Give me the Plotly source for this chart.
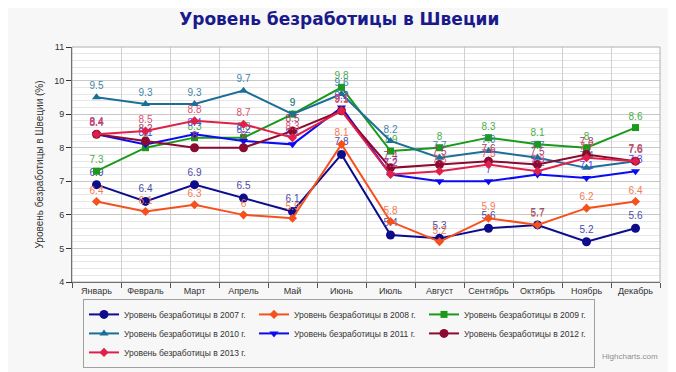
import plotly.graph_objects as go

months = ["Январь", "Февраль", "Март", "Апрель", "Май", "Июнь",
          "Июль", "Август", "Сентябрь", "Октябрь", "Ноябрь", "Декабрь"]

y2007 = [6.9, 6.4, 6.9, 6.5, 6.1, 7.8, 5.4, 5.3, 5.6, 5.7, 5.2, 5.6]
y2008 = [6.4, 6.1, 6.3, 6.0, 5.9, 8.1, 5.8, 5.2, 5.9, 5.7, 6.2, 6.4]
y2009 = [7.3, 8.0, 8.3, 8.3, 9.0, 9.8, 7.9, 8.0, 8.3, 8.1, 8.0, 8.6]
y2010 = [9.5, 9.3, 9.3, 9.7, 9.0, 9.6, 8.2, 7.7, 7.9, 7.7, 7.4, 7.6]
y2011 = [8.4, 8.1, 8.4, 8.2, 8.1, 9.2, 7.2, 7.0, 7.0, 7.2, 7.1, 7.3]
y2012 = [8.4, 8.2, 8.0, 8.0, 8.5, 9.1, 7.4, 7.5, 7.6, 7.5, 7.8, 7.6]
y2013 = [8.4, 8.5, 8.8, 8.7, 8.3, 9.1, 7.2, 7.3, 7.5, 7.3, 7.7, 7.6]

series_names = ["Уровень безработицы в 2007 г.", "Уровень безработицы в 2008 г.",
                "Уровень безработицы в 2009 г.", "Уровень безработицы в 2010 г.",
                "Уровень безработицы в 2011 г.", "Уровень безработицы в 2012 г.",
                "Уровень безработицы в 2013 г."]
series_values = [y2007, y2008, y2009, y2010, y2011, y2012, y2013]
colors = ["#0c0c8c", "#f4511e", "#1a9a1a", "#1b6f96", "#0b0bf0", "#8b0a32", "#e0204a"]
label_colors = ["#4a4aa8", "#f47a50", "#4aae4a", "#3f86a8", "#4848f0", "#a04060", "#e05070"]
symbols = ["circle", "diamond", "square", "triangle-up", "triangle-down", "circle", "diamond"]
sizes = [9, 7, 7, 8, 8, 9, 7]

title_text = "Уровень безработицы в Швеции"
yaxis_title = "Уровень безработицы в Швеции (%)"
credit_text = "Highcharts.com"

fig = go.Figure()
for name, vals, c, lc, sym, sz in zip(series_names, series_values, colors, label_colors, symbols, sizes):
    fig.add_trace(go.Scatter(
        x=months, y=vals, name=name,
        mode="lines+markers+text",
        line=dict(color=c, width=2),
        marker=dict(color=c, symbol=sym, size=sz),
        text=[f"{v:g}" for v in vals],
        textposition="top center",
        textfont=dict(family="Liberation Sans", size=10, color=lc),
        cliponaxis=False,
    ))

fig.update_layout(
    width=676, height=372,
    margin=dict(l=64, r=24, t=39, b=88),
    paper_bgcolor="#f7f7f7",
    plot_bgcolor="#ffffff",
    font=dict(family="Liberation Sans", size=9, color="#333333"),
    title=dict(text=f"<b>{title_text}</b>", x=0.49, xanchor="center", y=0.985, yanchor="top",
               font=dict(family="DejaVu Sans", size=17, color="#1a1a8c")),
    xaxis=dict(
        type="category", range=[-0.5, 11.5], tickson="boundaries",
        showgrid=True, gridcolor="#d0d0d0", gridwidth=1,
        ticks="outside", ticklen=5, tickcolor="#555555", tickangle=0,
        showline=True, linecolor="#333333", linewidth=1,
        tickfont=dict(family="Liberation Sans", size=9, color="#333333"),
        fixedrange=True,
    ),
    yaxis=dict(
        range=[4, 11], dtick=1, tick0=4,
        showgrid=True, gridcolor="#c8c8c8", gridwidth=1,
        minor=dict(dtick=0.2, showgrid=True, gridcolor="#e6e6e6", gridwidth=1),
        ticks="outside", ticklen=5, tickcolor="#333333",
        showline=True, linecolor="#333333", linewidth=1,
        zeroline=False,
        tickfont=dict(family="Liberation Sans", size=9, color="#333333"),
        title=dict(text=yaxis_title, font=dict(family="Liberation Sans", size=10, color="#333333"), standoff=8),
    ),
    legend=dict(
        orientation="h", x=0.0187, xanchor="left", y=-0.072, yanchor="top",
        bgcolor="#f7f7f7", bordercolor="#a0a0a0", borderwidth=1,
        font=dict(family="Liberation Sans", size=8.5, color="#333333"),
        entrywidth=125, entrywidthmode="pixels",
        itemwidth=30, tracegroupgap=0, itemsizing="trace",
    ),
    shapes=[dict(type="rect", xref="paper", yref="paper", x0=0, x1=1, y0=0, y1=1,
                 line=dict(color="#b0b0b0", width=1), fillcolor="rgba(0,0,0,0)", layer="above")],
    annotations=[dict(text=credit_text, xref="paper", yref="paper", x=1.0, y=-0.29,
                      xanchor="right", yanchor="top", showarrow=False,
                      font=dict(family="Liberation Sans", size=8, color="#909090"))],
)

fig.write_html("out.html")
